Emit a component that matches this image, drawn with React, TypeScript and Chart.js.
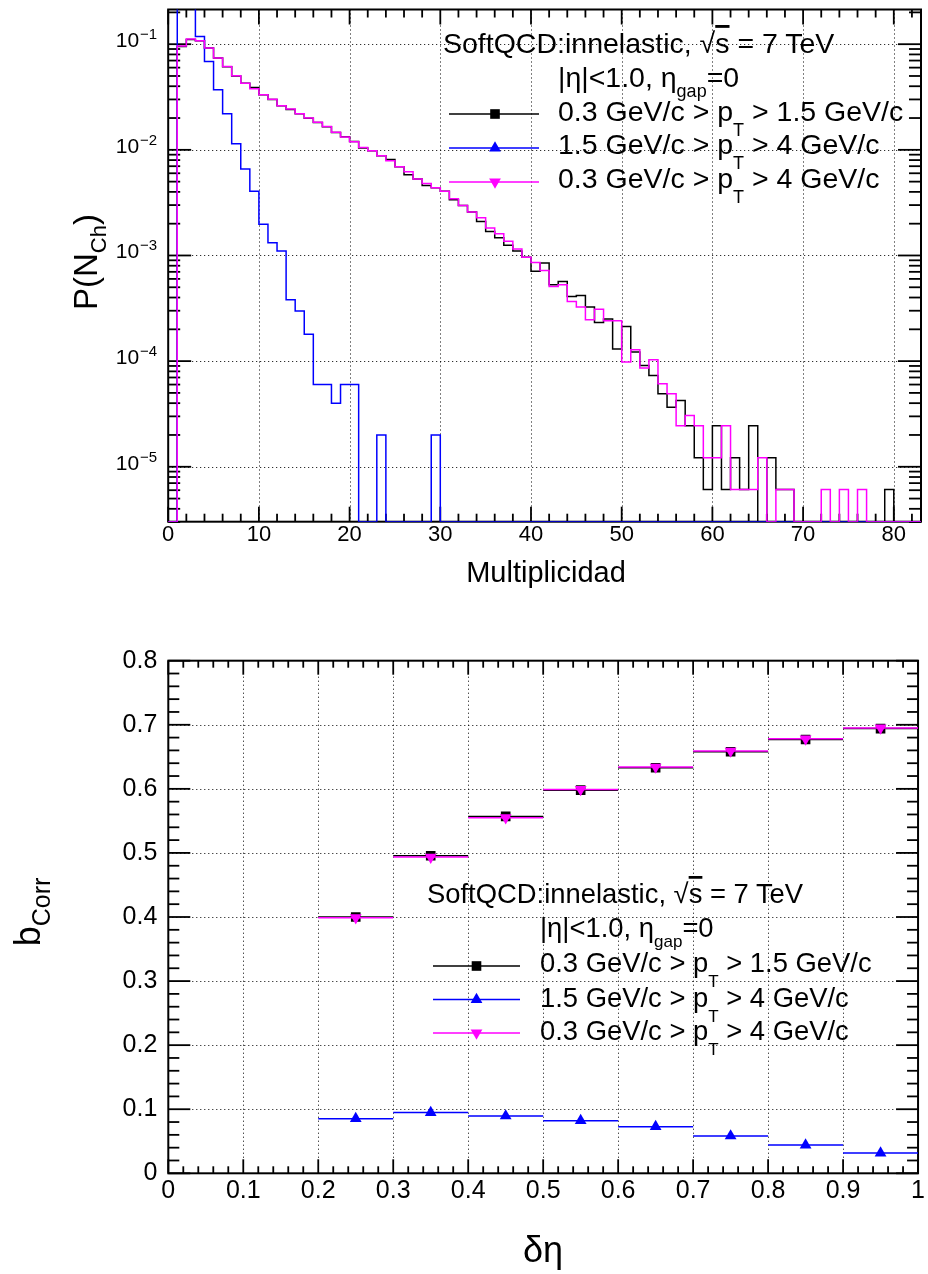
import React, { useEffect, useRef } from "react";
import { Chart, registerables } from "chart.js";

Chart.register(...registerables);

const FONT = "'Liberation Sans', Arial, Helvetica, sans-serif";
const BLACK = "#000000";
const BLUE = "#0000ff";
const MAGENTA = "#ff00ff";

// ---------------- Top panel: P(N_ch) vs multiplicity (unit-width bins starting at 0) ----------------
const MULT_BIN_WIDTH = 1;
const multTicks = [0, 10, 20, 30, 40, 50, 60, 70, 80];
const multMinorTicks = [2, 4, 6, 8, 12, 14, 16, 18, 22, 24, 26, 28, 32, 34, 36, 38, 42, 44, 46, 48, 52, 54, 56, 58, 62, 64, 66, 68, 72, 74, 76, 78, 82];
const pNchTickExponents = [-5, -4, -3, -2, -1];
const P_MIN = 3.02e-6;
const P_MAX = 0.213;
const MULT_MAX = 83;

// 0.3 GeV/c < pT < 1.5 GeV/c
const pNchBlack = [
  0, 0.095, 0.111, 0.108, 0.092, 0.074, 0.0612, 0.05, 0.0428, 0.039,
  0.0332, 0.03, 0.0262, 0.0241, 0.022, 0.0199, 0.0181, 0.0165, 0.0146, 0.0133,
  0.012, 0.0104, 0.0098, 0.0088, 0.0081, 0.0069, 0.0058, 0.0053, 0.0046, 0.00437,
  0.00405, 0.00337, 0.00298, 0.00258, 0.0021, 0.00169, 0.00147, 0.00125, 0.0011, 0.00096,
  0.00071, 0.00085, 0.000527, 0.000567, 0.000409, 0.000418, 0.000325, 0.000232, 0.00025, 0.00013,
  0.000213, 0.000122, 0.000091, 0.000073, 0.000049, 0.0000365, 0.0000425, 0.0000244, 0.0000122, 0.0000061,
  0.0000244, 0.0000061, 0.0000122, 0.0000061, 0.0000244, 0, 0.0000122, 0.0000061, 0.0000061, 0,
  0, 0, 0, 0, 0, 0, 0, 0, 0, 0.0000061,
  0, 0, 0,
];
// 1.5 GeV/c < pT < 4 GeV/c
const pNchBlue = [
  0, 0.35, 0.35, 0.118, 0.0685, 0.037, 0.0219, 0.0114, 0.0066, 0.00405,
  0.00198, 0.00132, 0.0011, 0.00038, 0.000298, 0.00018, 0.00006, 0.00006, 0.00004, 0.00006,
  0.00006, 0, 0, 0.00002, 0, 0, 0, 0, 0, 0.00002,
  0, 0, 0, 0, 0, 0, 0, 0, 0, 0,
  0, 0, 0, 0, 0, 0, 0, 0, 0, 0,
  0, 0, 0, 0, 0, 0, 0, 0, 0, 0,
  0, 0, 0, 0, 0, 0, 0, 0, 0, 0,
  0, 0, 0, 0, 0, 0, 0, 0, 0, 0,
  0, 0, 0,
];
// 0.3 GeV/c < pT < 4 GeV/c
const pNchMagenta = [
  0, 0.096, 0.112, 0.108, 0.092, 0.074, 0.0614, 0.0502, 0.0428, 0.0378,
  0.0332, 0.0302, 0.0261, 0.0243, 0.022, 0.02, 0.0182, 0.0166, 0.0147, 0.0132,
  0.0119, 0.0105, 0.0098, 0.0088, 0.0079, 0.0069, 0.0062, 0.0053, 0.0048, 0.00437,
  0.00405, 0.00345, 0.00298, 0.00258, 0.00227, 0.00182, 0.00161, 0.00136, 0.00115, 0.00096,
  0.00086, 0.00072, 0.000509, 0.000527, 0.000367, 0.000325, 0.000246, 0.00031, 0.000241, 0.000241,
  0.000098, 0.000128, 0.000086, 0.000103, 0.000061, 0.000049, 0.0000244, 0.0000305, 0.0000244, 0.0000122,
  0.0000122, 0.0000244, 0.0000061, 0.0000061, 0.0000061, 0.0000122, 0, 0.0000061, 0.0000061, 0,
  0, 0, 0.0000061, 0, 0.0000061, 0, 0.0000061, 0, 0, 0,
  0, 0, 0,
];

// ---------------- Bottom panel: b_corr vs delta-eta ----------------
const dEtaEdges = [0.2, 0.3, 0.4, 0.5, 0.6, 0.7, 0.8, 0.9, 1.0];
const dEtaTicks = [0, 0.1, 0.2, 0.3, 0.4, 0.5, 0.6, 0.7, 0.8, 0.9, 1.0];
const dEtaMinorTicks = [0.02, 0.04, 0.06, 0.08, 0.12, 0.14, 0.16, 0.18, 0.22, 0.24, 0.26, 0.28, 0.32, 0.34, 0.36, 0.38, 0.42, 0.44, 0.46, 0.48, 0.52, 0.54, 0.56, 0.58, 0.62, 0.64, 0.66, 0.68, 0.72, 0.74, 0.76, 0.78, 0.82, 0.84, 0.86, 0.88, 0.92, 0.94, 0.96, 0.98];
const bCorrTicks = [0, 0.1, 0.2, 0.3, 0.4, 0.5, 0.6, 0.7, 0.8];
const bCorrMinorTicks = [0.02, 0.04, 0.06, 0.08, 0.12, 0.14, 0.16, 0.18, 0.22, 0.24, 0.26, 0.28, 0.32, 0.34, 0.36, 0.38, 0.42, 0.44, 0.46, 0.48, 0.52, 0.54, 0.56, 0.58, 0.62, 0.64, 0.66, 0.68, 0.72, 0.74, 0.76, 0.78];
const bCorrBlack = [0.4, 0.4955, 0.557, 0.598, 0.633, 0.658, 0.677, 0.694];
const bCorrBlue = [0.0853, 0.0947, 0.0895, 0.0822, 0.0728, 0.0583, 0.0442, 0.0317];
const bCorrMagenta = [0.399, 0.4935, 0.555, 0.599, 0.634, 0.659, 0.678, 0.695];

// ---------------- helpers ----------------
function histSteps(values: number[]) {
  const pts = values.map((v, i) => ({ x: i * MULT_BIN_WIDTH, y: v > 0 ? v : P_MIN }));
  const last = values[values.length - 1];
  pts.push({ x: values.length * MULT_BIN_WIDTH, y: last > 0 ? last : P_MIN });
  return pts;
}
function binBars(values: number[]) {
  const pts: any[] = [];
  values.forEach((v, i) => {
    pts.push({ x: dEtaEdges[i], y: v });
    pts.push({ x: dEtaEdges[i + 1], y: v });
    pts.push({ x: dEtaEdges[i + 1], y: null });
  });
  return pts;
}
function binCenters(values: number[]) {
  return values.map((v, i) => ({ x: (dEtaEdges[i] + dEtaEdges[i + 1]) / 2, y: v }));
}

function drawMarker(ctx: CanvasRenderingContext2D, kind: string, x: number, y: number, r: number, color: string) {
  ctx.fillStyle = color;
  ctx.beginPath();
  if (kind === "rect") {
    const s = r * Math.SQRT1_2;
    ctx.rect(x - s, y - s, 2 * s, 2 * s);
  } else if (kind === "triUp") {
    ctx.moveTo(x, y - r);
    ctx.lineTo(x + r * 0.866, y + r / 2);
    ctx.lineTo(x - r * 0.866, y + r / 2);
    ctx.closePath();
  } else {
    ctx.moveTo(x, y + r);
    ctx.lineTo(x + r * 0.866, y - r / 2);
    ctx.lineTo(x - r * 0.866, y - r / 2);
    ctx.closePath();
  }
  ctx.fill();
}

const snap = (p: number) => Math.round(p) + 0.5;

const rootFrame = {
  id: "rootFrame",
  beforeDatasetsDraw(chart: any, _args: any, o: any) {
    const { ctx, chartArea: a } = chart;
    const xs = chart.scales.x;
    const ys = chart.scales.y;
    const seg = (x1: number, y1: number, x2: number, y2: number) => {
      ctx.beginPath();
      ctx.moveTo(x1, y1);
      ctx.lineTo(x2, y2);
      ctx.stroke();
    };
    ctx.save();
    ctx.strokeStyle = "#000";
    ctx.lineWidth = 1;
    ctx.setLineDash([1, 3]);
    for (const v of o.xMajor) {
      const p = xs.getPixelForValue(v);
      if (p > a.left + 2 && p < a.right - 2) seg(snap(p), a.top, snap(p), a.bottom);
    }
    for (const v of o.yMajor) {
      const p = ys.getPixelForValue(v);
      if (p > a.top + 2 && p < a.bottom - 2) seg(a.left, snap(p), a.right, snap(p));
    }
    ctx.setLineDash([]);
    ctx.lineWidth = o.tickWidth;
    const xt = (vals: number[], len: number) => {
      for (const v of vals) {
        const p = xs.getPixelForValue(v);
        if (p < a.left - 0.5 || p > a.right + 0.5) continue;
        seg(p, a.bottom, p, a.bottom - len);
        seg(p, a.top, p, a.top + len);
      }
    };
    const yt = (vals: number[], len: number) => {
      for (const v of vals) {
        const p = ys.getPixelForValue(v);
        if (p < a.top - 0.5 || p > a.bottom + 0.5) continue;
        seg(a.left, p, a.left + len, p);
        seg(a.right, p, a.right - len, p);
      }
    };
    xt(o.xMajor, o.xMajLen);
    xt(o.xMinor, o.xMinLen);
    yt(o.yMajor, o.yMajLen);
    yt(o.yMinor, o.yMinLen);
    ctx.lineWidth = 2;
    ctx.strokeRect(a.left, a.top, a.right - a.left, a.bottom - a.top);
    ctx.restore();
  },
  afterDatasetsDraw(chart: any, _args: any, o: any) {
    const { ctx, chartArea: a } = chart;
    ctx.save();
    if (o.legend) {
      for (const e of o.legend.items) {
        ctx.strokeStyle = e.color;
        ctx.lineWidth = 1.5;
        ctx.beginPath();
        ctx.moveTo(o.legend.x1, e.y);
        ctx.lineTo(o.legend.x2, e.y);
        ctx.stroke();
        drawMarker(ctx, e.marker, o.legend.mx, e.y, 6.8, e.color);
      }
    }
    if (o.logLabels) {
      const ys = chart.scales.y;
      ctx.fillStyle = "#000";
      ctx.textBaseline = "alphabetic";
      ctx.textAlign = "left";
      for (const ex of o.logLabels) {
        const p = ys.getPixelForValue(Math.pow(10, ex));
        const sup = "\u2212" + String(Math.abs(ex));
        ctx.font = `15px ${FONT}`;
        const sw = ctx.measureText(sup).width;
        ctx.font = `21px ${FONT}`;
        const bw = ctx.measureText("10").width;
        const xEnd = a.left - 11;
        ctx.fillText("10", xEnd - sw - bw - 1, p + 3);
        ctx.font = `15px ${FONT}`;
        ctx.fillText(sup, xEnd - sw, p - 5);
      }
    }
    ctx.restore();
  },
};

const setTicks = (vals: number[]) => (s: any) => {
  s.ticks = vals.map((v) => ({ value: v }));
};
const fmt = (v: any) => String(Math.round(Number(v) * 10) / 10);

export default function App() {
  const topRef = useRef<HTMLCanvasElement>(null);
  const botRef = useRef<HTMLCanvasElement>(null);

  useEffect(() => {
    const top = new Chart(topRef.current as HTMLCanvasElement, {
      type: "line",
      data: {
        datasets: [
          { label: "0.3 GeV/c > pT > 4 GeV/c", data: histSteps(pNchMagenta), borderColor: MAGENTA, borderWidth: 1.5, stepped: true, pointRadius: 0, fill: false, order: 0 },
          { label: "1.5 GeV/c > pT > 4 GeV/c", data: histSteps(pNchBlue), borderColor: BLUE, borderWidth: 1.5, stepped: true, pointRadius: 0, fill: false, order: 1 },
          { label: "0.3 GeV/c > pT > 1.5 GeV/c", data: histSteps(pNchBlack), borderColor: BLACK, borderWidth: 1.5, stepped: true, pointRadius: 0, fill: false, order: 2 },
        ],
      } as any,
      options: {
        responsive: false,
        animation: false,
        devicePixelRatio: 1,
        events: [],
        layout: { padding: { top: 9.5, right: 7, left: 0, bottom: 0 } },
        plugins: {
          legend: { display: false },
          tooltip: { enabled: false },
          rootFrame: {
            xMajor: multTicks,
            xMinor: multMinorTicks,
            yMajor: pNchTickExponents.map((e) => Math.pow(10, e)),
            yMinor: [-6, -5, -4, -3, -2, -1].flatMap((e) => [2, 3, 4, 5, 6, 7, 8, 9].map((m) => m * Math.pow(10, e))),
            xMajLen: 15, xMinLen: 8, yMajLen: 23, yMinLen: 12, tickWidth: 1.8,
            logLabels: pNchTickExponents,
            legend: {
              x1: 449, x2: 539, mx: 495,
              items: [
                { color: BLACK, marker: "rect", y: 114 },
                { color: BLUE, marker: "triUp", y: 148 },
                { color: MAGENTA, marker: "triDown", y: 182 },
              ],
            },
          },
        } as any,
        scales: {
          x: {
            type: "linear", min: 0, max: MULT_MAX,
            afterBuildTicks: setTicks(multTicks),
            afterFit: (s: any) => { s.height = 78.3; },
            grid: { display: false, drawTicks: false },
            border: { display: false },
            ticks: { font: { family: FONT, size: 22 }, color: "#000", padding: 0, maxRotation: 0, autoSkip: false },
          },
          y: {
            type: "logarithmic", min: P_MIN, max: P_MAX,
            afterBuildTicks: setTicks(pNchTickExponents.map((e) => Math.pow(10, e))),
            afterFit: (s: any) => { s.width = 168.2; },
            grid: { display: false, drawTicks: false },
            border: { display: false },
            ticks: { display: false },
          },
        } as any,
      },
      plugins: [rootFrame as any],
    });

    const bot = new Chart(botRef.current as HTMLCanvasElement, {
      type: "line",
      data: {
        datasets: [
          { label: "m markers", data: binCenters(bCorrMagenta), showLine: false, pointStyle: "triangle", rotation: 180, pointRadius: 6.8, pointBackgroundColor: MAGENTA, pointBorderWidth: 0, order: 0 },
          { label: "m bars", data: binBars(bCorrMagenta), borderColor: MAGENTA, borderWidth: 1.5, pointRadius: 0, spanGaps: false, order: 1 },
          { label: "b markers", data: binCenters(bCorrBlue), showLine: false, pointStyle: "triangle", rotation: 0, pointRadius: 6.8, pointBackgroundColor: BLUE, pointBorderWidth: 0, order: 2 },
          { label: "b bars", data: binBars(bCorrBlue), borderColor: BLUE, borderWidth: 1.5, pointRadius: 0, spanGaps: false, order: 3 },
          { label: "k markers", data: binCenters(bCorrBlack), showLine: false, pointStyle: "rect", pointRadius: 6.8, pointBackgroundColor: BLACK, pointBorderWidth: 0, order: 4 },
          { label: "k bars", data: binBars(bCorrBlack), borderColor: BLACK, borderWidth: 1.5, pointRadius: 0, spanGaps: false, order: 5 },
        ],
      } as any,
      options: {
        responsive: false,
        animation: false,
        devicePixelRatio: 1,
        events: [],
        layout: { padding: { top: 60.7, right: 7, left: 0, bottom: 0 } },
        plugins: {
          legend: { display: false },
          tooltip: { enabled: false },
          rootFrame: {
            xMajor: dEtaTicks, xMinor: dEtaMinorTicks,
            yMajor: bCorrTicks, yMinor: bCorrMinorTicks,
            xMajLen: 14, xMinLen: 7, yMajLen: 22, yMinLen: 11, tickWidth: 1.8,
            legend: {
              x1: 433, x2: 520, mx: 476.5,
              items: [
                { color: BLACK, marker: "rect", y: 366 },
                { color: BLUE, marker: "triUp", y: 399.5 },
                { color: MAGENTA, marker: "triDown", y: 433 },
              ],
            },
          },
        } as any,
        scales: {
          x: {
            type: "linear", min: 0, max: 1,
            afterBuildTicks: setTicks(dEtaTicks),
            afterFit: (s: any) => { s.height = 100.7; },
            grid: { display: false, drawTicks: false },
            border: { display: false },
            ticks: { font: { family: FONT, size: 25 }, color: "#000", padding: 3, maxRotation: 0, autoSkip: false, callback: fmt },
          },
          y: {
            type: "linear", min: 0, max: 0.8,
            afterBuildTicks: setTicks(bCorrTicks),
            afterFit: (s: any) => { s.width = 168.3; },
            grid: { display: false, drawTicks: false },
            border: { display: false },
            ticks: { font: { family: FONT, size: 25 }, color: "#000", padding: 11, autoSkip: false, callback: fmt },
          },
        } as any,
      },
      plugins: [rootFrame as any],
    });

    return () => {
      top.destroy();
      bot.destroy();
    };
  }, []);

  const T: any = { fontFamily: FONT, fill: "#000", whiteSpace: "pre" };
  const pt = (x: number, y: number, fs: number, sfs: number, dy: number, pre: string, post: string) => (
    <text x={x} y={y} fontSize={fs} style={T}>
      {pre}
      <tspan dy={dy} fontSize={sfs}>T</tspan>
      <tspan dy={-dy}>{post}</tspan>
    </text>
  );

  return (
    <div style={{ position: "absolute", left: 0, top: 0, width: 928, height: 1274, background: "#fff" }}>
      <canvas ref={topRef} width={928} height={600} style={{ position: "absolute", left: 0, top: 0 }} />
      <canvas ref={botRef} width={928} height={674} style={{ position: "absolute", left: 0, top: 600 }} />
      <svg width={928} height={1274} style={{ position: "absolute", left: 0, top: 0, pointerEvents: "none" }}>
        {/* top legend */}
        <text x={443} y={53} fontSize={28.5} style={T}>
          {"SoftQCD:innelastic, √"}
          <tspan style={{ textDecoration: "overline" }}>s</tspan>
          {" = 7 TeV"}
        </text>
        <text x={558} y={87} fontSize={28.5} style={T}>
          {"|η|<1.0, η"}
          <tspan dy={10} fontSize={18}>gap</tspan>
          <tspan dy={-10}>=0</tspan>
        </text>
        {pt(558, 121, 28.5, 18, 15, "0.3 GeV/c > p", " > 1.5 GeV/c")}
        {pt(558, 154, 28.5, 18, 15, "1.5 GeV/c > p", " > 4 GeV/c")}
        {pt(558, 188, 28.5, 18, 15, "0.3 GeV/c > p", " > 4 GeV/c")}

        {/* top axis titles */}
        <text x={546} y={582} fontSize={29} textAnchor="middle" style={T}>Multiplicidad</text>
        <text transform="translate(97,262) rotate(-90)" fontSize={33} textAnchor="middle" style={T}>
          {"P(N"}
          <tspan dy={9} fontSize={22}>Ch</tspan>
          <tspan dy={-9}>)</tspan>
        </text>

        {/* bottom legend */}
        <text x={427} y={903} fontSize={27.4} style={T}>
          {"SoftQCD:innelastic, √"}
          <tspan style={{ textDecoration: "overline" }}>s</tspan>
          {" = 7 TeV"}
        </text>
        <text x={540} y={937} fontSize={27.4} style={T}>
          {"|η|<1.0, η"}
          <tspan dy={10} fontSize={17}>gap</tspan>
          <tspan dy={-10}>=0</tspan>
        </text>
        {pt(540, 971.5, 27.4, 17, 15, "0.3 GeV/c > p", " > 1.5 GeV/c")}
        {pt(540, 1006.5, 27.4, 17, 15, "1.5 GeV/c > p", " > 4 GeV/c")}
        {pt(540, 1040, 27.4, 17, 15, "0.3 GeV/c > p", " > 4 GeV/c")}

        {/* bottom axis titles */}
        <text x={543} y={1262} fontSize={36} textAnchor="middle" style={T}>δη</text>
        <text transform="translate(40,912) rotate(-90)" fontSize={36} textAnchor="middle" style={T}>
          {"b"}
          <tspan dy={10} fontSize={25}>Corr</tspan>
        </text>
      </svg>
    </div>
  );
}
